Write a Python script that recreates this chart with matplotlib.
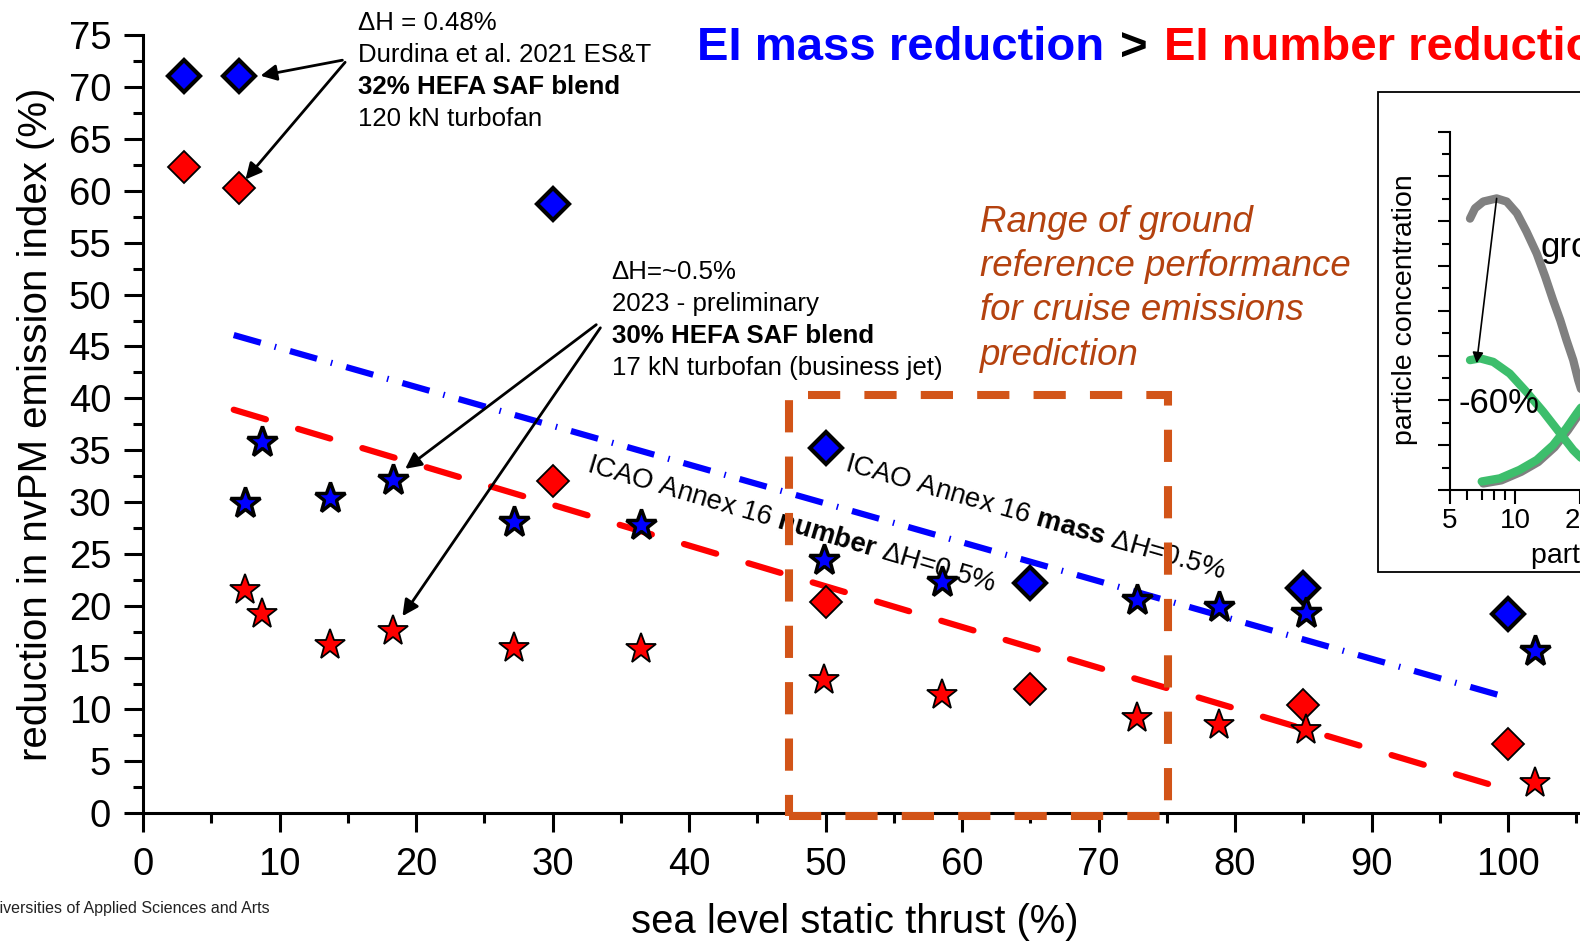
import numpy as np
import matplotlib
matplotlib.use('Agg')
import matplotlib.pyplot as plt
import matplotlib.transforms as mtransforms
from matplotlib.patches import Rectangle
from matplotlib.ticker import MultipleLocator, FixedLocator, NullFormatter

plt.rcParams['font.family'] = ['Liberation Sans', 'DejaVu Sans']
plt.rcParams['mathtext.fontset'] = 'custom'
plt.rcParams['mathtext.rm'] = 'Liberation Sans'
plt.rcParams['mathtext.bf'] = 'Liberation Sans:bold'

# Durdina et al. 2021, 120 kN turbofan (diamonds)
thrust_2021 = [3, 7, 30, 50, 65, 85, 100]
mass_2021 = [71.1, 71.1, 58.7, 35.2, 22.2, 21.7, 19.2]
number_2021 = [62.3, 60.3, 32.0, 20.4, 12.0, 10.4, 6.7]

# 2023 preliminary, 17 kN business jet (stars)
thrust_2023 = [7.5, 8.7, 13.7, 18.3, 27.2, 36.5, 49.9, 58.5, 72.8, 78.8, 85.2, 102.0]
mass_2023 = [29.9, 35.8, 30.4, 32.1, 28.1, 27.8, 24.4, 22.3, 20.6, 19.9, 19.3, 15.6]
number_2023 = [21.5, 19.2, 16.2, 17.6, 15.9, 15.8, 12.8, 11.4, 9.15, 8.5, 8.0, 2.9]

# ICAO Annex 16 lines (dH = 0.5%)
icao_mass_x = [6.64, 99.3]
icao_mass_y = [46.1, 11.4]
icao_number_x = [6.64, 98.6]
icao_number_y = [38.9, 2.8]

# range of ground reference performance (box)
range_x = [47.3, 75.06]
range_y = [-0.3, 40.3]

# inset: size distributions
ground_x = [6.19, 6.53, 7.13, 8.22, 9.15, 10.2, 11.3, 12.6, 13.8, 15.0, 16.2, 17.3, 18.6, 19.6, 21.0]
ground_y = [6.06, 6.29, 6.44, 6.51, 6.44, 6.18, 5.77, 5.28, 4.76, 4.24, 3.79, 3.35, 2.90, 2.46, 2.0]
cruise_a_x = [6.19, 6.88, 7.93, 9.45, 11.3, 13.5, 16.2, 18.6, 20.0, 22.0]
cruise_a_y = [2.90, 2.94, 2.86, 2.60, 2.19, 1.75, 1.26, 0.89, 0.74, 0.55]
cruise_b_x = [7.01, 8.5, 10.5, 12.6, 15.0, 17.3, 19.3, 21.0]
cruise_b_y = [0.19, 0.26, 0.45, 0.67, 1.00, 1.38, 1.71, 1.95]

x_ticks = list(range(0, 101, 10))
y_ticks = list(range(0, 76, 5))

W, H = 1580, 943


def fx(px):
    return px / W


def fy(py):
    return 1 - py / H


BLUE = '#0000FF'
RED = '#FF0000'
ORANGE = '#D25418'
RUST = '#B4420F'
GREEN = '#3DBE6C'

fig = plt.figure(figsize=(W / 100, H / 100), dpi=100)
ax = fig.add_axes([fx(143.1), fy(813.2), 1 - fx(143.1), (813.2 - 35.3) / H])
ax.set_xlim(0, (W - 143.1) / 13.65)
ax.set_ylim(0, 75)
ax.patch.set_alpha(0)
for s in ['top', 'right']:
    ax.spines[s].set_visible(False)
for s in ['left', 'bottom']:
    ax.spines[s].set_linewidth(2.2)

ax.set_xticks(x_ticks)
ax.set_yticks(y_ticks)
ax.xaxis.set_minor_locator(MultipleLocator(5))
ax.yaxis.set_minor_locator(MultipleLocator(2.5))
ax.tick_params(which='major', direction='out', length=14, width=2.2, labelsize=27.5)
ax.tick_params(which='minor', direction='out', length=7, width=2.2)
ax.tick_params(axis='x', which='major', pad=10)
ax.tick_params(axis='y', which='major', pad=9)

# ICAO lines
ax.plot(icao_mass_x, icao_mass_y, color=BLUE, lw=4.5, dashes=(4.5, 2.3, 0.25, 2.3),
        dash_capstyle='butt', zorder=2)
ax.plot(icao_number_x, icao_number_y, color=RED, lw=4.5, dashes=(5.37, 5.37),
        dash_capstyle='round', zorder=2)

# data points
ax.plot(thrust_2021, mass_2021, ls='none', marker='D', ms=16, mfc=BLUE, mec='black', mew=3, zorder=5, clip_on=False)
ax.plot(thrust_2021, number_2021, ls='none', marker='D', ms=16, mfc=RED, mec='black', mew=1.3, zorder=5, clip_on=False)
ax.plot(thrust_2023, mass_2023, ls='none', marker='*', ms=22.5, mfc=BLUE, mec='black', mew=2.5, zorder=5, clip_on=False)
ax.plot(thrust_2023, number_2023, ls='none', marker='*', ms=22.5, mfc=RED, mec='black', mew=1.3, zorder=5, clip_on=False)

# range box
ax.add_patch(Rectangle((range_x[0], range_y[0]), range_x[1] - range_x[0], range_y[1] - range_y[0],
                       fill=False, edgecolor=ORANGE, lw=5.8, linestyle=(0, (4, 3)),
                       zorder=6, clip_on=False))

# ICAO labels
ax.text(32.4, 33.0, 'ICAO Annex 16 $\\mathbf{number}$ \u0394H=0.5%', fontsize=19.8,
        rotation=-16.5, rotation_mode='anchor', ha='left', va='baseline', zorder=4)
ax.text(51.3, 33.1, 'ICAO Annex 16 $\\mathbf{mass}$ \u0394H=0.5%', fontsize=19.8,
        rotation=-16, rotation_mode='anchor', ha='left', va='baseline', zorder=4)

# arrows
arrow_kw = dict(arrowstyle='-|>', color='black', lw=2, mutation_scale=24, shrinkA=0, shrinkB=0)
ax.annotate('', xy=(8.6, 71.1), xytext=(14.6, 72.6), arrowprops=arrow_kw, annotation_clip=False)
ax.annotate('', xy=(7.5, 61.1), xytext=(14.8, 72.4), arrowprops=arrow_kw, annotation_clip=False)
ax.annotate('', xy=(19.2, 33.2), xytext=(33.2, 47.1), arrowprops=arrow_kw, annotation_clip=False)
ax.annotate('', xy=(19.0, 19.0), xytext=(33.5, 46.8), arrowprops=arrow_kw, annotation_clip=False)

# annotation text blocks
note1 = ['\u0394H = 0.48%', 'Durdina et al. 2021 ES&T', '32% HEFA SAF blend', '120 kN turbofan']
for i, (line, by) in enumerate(zip(note1, [30, 62, 94.4, 125.6])):
    fig.text(fx(357.7), fy(by), line, fontsize=18.6, va='baseline', ha='left',
             fontweight='bold' if i == 2 else 'normal')
note2 = ['\u0394H=~0.5%', '2023 - preliminary', '30% HEFA SAF blend', '17 kN turbofan (business jet)']
for i, (line, by) in enumerate(zip(note2, [278.7, 311, 343.3, 375.5])):
    fig.text(fx(611.7), fy(by), line, fontsize=18.6, va='baseline', ha='left',
             fontweight='bold' if i == 2 else 'normal')
note3 = ['Range of ground', 'reference performance', 'for cruise emissions', 'prediction']
for line, by in zip(note3, [231.7, 276, 320.3, 364.6]):
    fig.text(fx(980), fy(by), line, fontsize=26.4, style='italic', color=RUST,
             va='baseline', ha='left')

# axis labels
fig.text(fx(36), fy(424.7), 'reduction in nvPM emission index (%)', rotation=90,
         fontsize=29, ha='center', va='center')
fig.text(fx(855), fy(922), 'sea level static thrust (%)', fontsize=28.8, ha='center', va='center')

# footer
fig.text(fx(270), fy(908), 'Universities of Applied Sciences and Arts', fontsize=11.5,
         ha='right', va='center', color='#222222')

# title in three colours
renderer = fig.canvas.get_renderer()
title_parts = ['EI mass reduction', '>', 'EI number reduction']
title_colors = [BLUE, 'black', RED]
xpos = fx(697)
for part, col in zip(title_parts, title_colors):
    t = fig.text(xpos, fy(48.5), part, color=col, fontsize=34, fontweight='bold',
                 ha='left', va='center')
    bb = t.get_window_extent(renderer)
    xpos = (bb.x1 + 16) / W

# inset frame
frame = Rectangle((fx(1377.5), fy(571.5)), 1.2, (571.5 - 91.7) / H, transform=fig.transFigure,
                  facecolor='white', edgecolor='black', lw=1.3, zorder=1)
fig.add_artist(frame)

decade_px = 216.0
x_hi = 200
axin = fig.add_axes([fx(1450), fy(490), np.log10(x_hi / 5) * decade_px / W, (490 - 131.7) / H])
axin.set_zorder(2)
axin.patch.set_alpha(0)
axin.set_xscale('log')
axin.set_xlim(5, x_hi)
axin.set_ylim(0, 8)
for s in ['top', 'right']:
    axin.spines[s].set_visible(False)
for s in ['left', 'bottom']:
    axin.spines[s].set_linewidth(1.5)
axin.xaxis.set_major_locator(FixedLocator([5, 10, 20, 50, 100]))
axin.xaxis.set_minor_locator(FixedLocator([6, 7, 8, 9, 30, 40, 60, 70, 80, 90]))
axin.xaxis.set_minor_formatter(NullFormatter())
axin.set_xticklabels(['5', '10', '20', '50', '100'])
axin.yaxis.set_major_locator(MultipleLocator(1))
axin.yaxis.set_minor_locator(MultipleLocator(0.5))
axin.set_yticklabels([])
axin.tick_params(which='major', direction='out', length=10, width=1.5, labelsize=20, pad=3)
axin.tick_params(which='minor', direction='out', length=5.5, width=1.5)
axin.tick_params(axis='x', which='minor', length=7)
axin.tick_params(axis='y', which='major', length=9)

axin.plot(ground_x, ground_y, color='#808080', lw=6, solid_capstyle='round', clip_on=False)
shift = mtransforms.ScaledTranslation(1.5 / 100, -2.0 / 100, fig.dpi_scale_trans)
axin.plot(cruise_b_x, cruise_b_y, color='#808080', lw=6, solid_capstyle='round',
          transform=axin.transData + shift, clip_on=False)
axin.plot(cruise_a_x, cruise_a_y, color=GREEN, lw=6, solid_capstyle='round', clip_on=False)
axin.plot(cruise_b_x, cruise_b_y, color=GREEN, lw=6, solid_capstyle='round', clip_on=False)
axin.annotate('', xy=(6.64, 2.83), xytext=(8.22, 6.51),
              arrowprops=dict(arrowstyle='-|>', color='black', lw=1.2, mutation_scale=16,
                              shrinkA=0, shrinkB=0))
fig.text(fx(1458), fy(413), '-60%', fontsize=25, ha='left', va='baseline', zorder=5)
fig.text(fx(1541), fy(257), 'ground', fontsize=25, ha='left', va='baseline', zorder=5)
fig.text(fx(1405), fy(310), 'particle concentration', rotation=90, fontsize=20.5,
         ha='center', va='center', zorder=5)
fig.text(fx(1531), fy(556), 'particle size (nm)', fontsize=20.5, ha='left', va='center', zorder=5)

fig.savefig('out.png', dpi=100)
